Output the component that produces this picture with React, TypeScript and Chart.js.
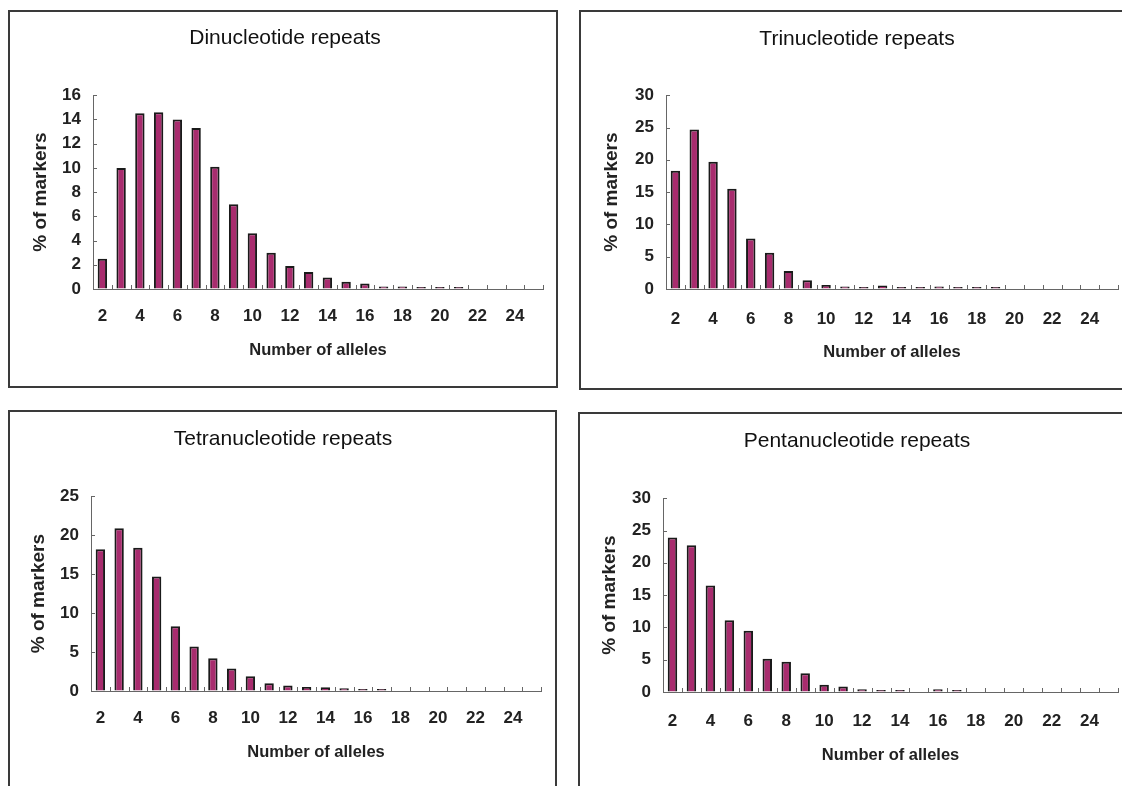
import React, { useEffect, useRef } from "react";
import { Chart, registerables } from "chart.js";

Chart.register(...registerables);

const ALLELES = ["2","3","4","5","6","7","8","9","10","11","12","13","14","15","16","17","18","19","20","21","22","23","24","25"];

// null = no marker with this number of alleles (no bar drawn)
const DI_VALUES = [2.5, 10.0, 14.5, 14.6, 14.0, 13.3, 10.1, 7.0, 4.6, 3.0, 1.9, 1.4, 0.95, 0.6, 0.45, 0.2, 0.2, 0.1, 0.1, 0.1, null, null, null, null];
const TRI_VALUES = [18.3, 24.7, 19.7, 15.5, 7.8, 5.6, 2.8, 1.35, 0.6, 0.4, 0.2, 0.55, 0.2, 0.2, 0.4, 0.2, 0.2, 0.2, null, null, null, null, null, null];
const TETRA_VALUES = [18.2, 20.9, 18.4, 14.7, 8.3, 5.7, 4.2, 2.9, 1.9, 1.0, 0.7, 0.5, 0.47, 0.34, 0.13, 0.13, null, null, null, null, null, null, null, null];
const PENTA_VALUES = [23.9, 22.7, 16.5, 11.1, 9.5, 5.15, 4.7, 2.9, 1.13, 0.87, 0.41, 0.2, 0.2, null, 0.41, 0.2, null, null, null, null, null, null, null, null];

const TITLES = ["Dinucleotide repeats", "Trinucleotide repeats", "Tetranucleotide repeats", "Pentanucleotide repeats"];
const Y_MAX = [16, 30, 25, 30];
const Y_STEP = [2, 5, 5, 5];
const X_TITLE = "Number of alleles";
const Y_TITLE = "% of markers";

const FONT = "'Liberation Sans', Arial, Helvetica, sans-serif";
const BAR_COLOR = "#a82c6e";

type Geo = {
  left: number; top: number; w: number; h: number;
  padL: number; yW: number; xH: number; rightPad: number;
  titleTop: number; titleBottom: number;
  xLabelPad: number; xTitleBottom: number; yTitleTop: number;
};

const GEOS: Geo[] = [
  { left: 8, top: 10, w: 550, h: 378, padL: 19, yW: 66, xH: 99, rightPad: 15, titleTop: 16, titleBottom: 44, xLabelPad: 17, xTitleBottom: 28, yTitleTop: 2 },
  { left: 579, top: 10, w: 551, h: 380, padL: 17, yW: 70, xH: 101, rightPad: 12, titleTop: 17, titleBottom: 43, xLabelPad: 20, xTitleBottom: 28, yTitleTop: 4 },
  { left: 8, top: 410, w: 549, h: 380, padL: 17, yW: 66, xH: 99, rightPad: 16, titleTop: 17, titleBottom: 44, xLabelPad: 17, xTitleBottom: 28, yTitleTop: 2 },
  { left: 578, top: 412, w: 552, h: 380, padL: 18, yW: 67, xH: 100, rightPad: 12, titleTop: 17, titleBottom: 44, xLabelPad: 19, xTitleBottom: 27, yTitleTop: 2 },
];

const innerTicks = {
  id: "innerTicks",
  afterDraw(chart: any) {
    const { ctx, chartArea, scales } = chart;
    const x = scales.x;
    const y = scales.y;
    ctx.save();
    ctx.strokeStyle = "#666";
    ctx.lineWidth = 1;
    const n = x.ticks.length;
    const half = (x.getPixelForTick(1) - x.getPixelForTick(0)) / 2;
    ctx.beginPath();
    for (let i = 0; i <= n; i++) {
      const px = Math.round(i < n ? x.getPixelForTick(i) - half : x.getPixelForTick(n - 1) + half) + 0.5;
      ctx.moveTo(px, chartArea.bottom);
      ctx.lineTo(px, chartArea.bottom - 4);
    }
    for (let i = 0; i < y.ticks.length; i++) {
      const py = Math.round(y.getPixelForTick(i)) + 0.5;
      ctx.moveTo(chartArea.left, py);
      ctx.lineTo(chartArea.left + 4, py);
    }
    ctx.stroke();
    ctx.restore();
  },
};

function Panel({ idx, values }: { idx: number; values: (number | null)[] }) {
  const ref = useRef<HTMLCanvasElement | null>(null);
  const g = GEOS[idx];
  useEffect(() => {
    if (!ref.current) return;
    const chart = new Chart(ref.current, {
      type: "bar",
      data: {
        labels: ALLELES,
        datasets: [
          {
            data: values,
            backgroundColor: BAR_COLOR,
            borderColor: "#1a1a1a",
            borderWidth: 2,
            minBarLength: 2,
            barPercentage: 0.5,
            categoryPercentage: 1,
          },
        ],
      },
      options: {
        animation: false,
        responsive: false,
        layout: { padding: { left: g.padL, top: 0, bottom: 0, right: g.rightPad } },
        plugins: {
          legend: { display: false },
          tooltip: { enabled: false },
          title: {
            display: true,
            text: TITLES[idx],
            color: "#111",
            font: { family: FONT, size: 21, weight: "normal" },
            padding: { top: g.titleTop, bottom: g.titleBottom },
          },
        },
        scales: {
          x: {
            grid: { display: true, drawOnChartArea: false, drawTicks: false },
            border: { display: true, color: "#666", width: 1 },
            ticks: {
              autoSkip: false,
              maxRotation: 0,
              padding: g.xLabelPad,
              color: "#222",
              font: { family: FONT, size: 17, weight: "bold" },
              callback: (_v: any, i: number) => (Number(ALLELES[i]) % 2 === 0 ? ALLELES[i] : ""),
            },
            title: {
              display: true,
              text: X_TITLE,
              color: "#222",
              font: { family: FONT, size: 16.5, weight: "bold" },
              padding: { top: 0, bottom: g.xTitleBottom },
            },
            afterFit: (s: any) => { s.height = g.xH; },
          },
          y: {
            min: 0,
            max: Y_MAX[idx],
            grid: { display: true, drawOnChartArea: false, drawTicks: false },
            border: { display: true, color: "#666", width: 1 },
            ticks: {
              stepSize: Y_STEP[idx],
              padding: 12,
              color: "#222",
              font: { family: FONT, size: 17, weight: "bold" },
            },
            title: {
              display: true,
              text: Y_TITLE,
              color: "#222",
              font: { family: FONT, size: 19, weight: "bold" },
              padding: { top: g.yTitleTop, bottom: 0 },
            },
            afterFit: (s: any) => { s.width = g.yW; },
          },
        },
      },
      plugins: [innerTicks],
    } as any);
    return () => chart.destroy();
  }, []);
  return (
    <div style={{ position: "absolute", left: g.left, top: g.top, width: g.w, height: g.h }}>
      <canvas ref={ref} width={g.w} height={g.h} style={{ position: "absolute", left: 0, top: 0 }} />
      <div
        style={{
          position: "absolute", left: 0, top: 0, width: g.w, height: g.h,
          border: "2px solid #3a3a3a", boxSizing: "border-box", pointerEvents: "none",
        }}
      />
    </div>
  );
}

export default function App() {
  return (
    <div style={{ position: "absolute", left: 0, top: 0, width: 1122, height: 786, overflow: "hidden", background: "#fff" }}>
      <Panel idx={0} values={DI_VALUES} />
      <Panel idx={1} values={TRI_VALUES} />
      <Panel idx={2} values={TETRA_VALUES} />
      <Panel idx={3} values={PENTA_VALUES} />
    </div>
  );
}
